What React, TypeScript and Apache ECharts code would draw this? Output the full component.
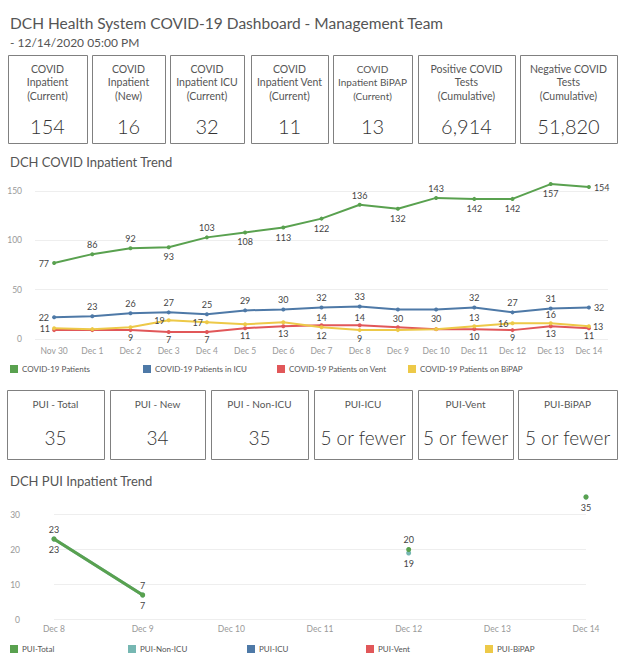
import React, { useEffect, useRef } from 'react';
import * as echarts from 'echarts';

// ---------- data ----------
const trendDates = ['Nov 30', 'Dec 1', 'Dec 2', 'Dec 3', 'Dec 4', 'Dec 5', 'Dec 6', 'Dec 7', 'Dec 8', 'Dec 9', 'Dec 10', 'Dec 11', 'Dec 12', 'Dec 13', 'Dec 14'];
const covidPatients = [77, 86, 92, 93, 103, 108, 113, 122, 136, 132, 143, 142, 142, 157, 154];
const covidICU = [22, 23, 26, 27, 25, 29, 30, 32, 33, 30, 30, 32, 27, 31, 32];
const covidVent = [9, 9, 9, 7, 7, 11, 13, 14, 14, 12, 10, 10, 9, 13, 11];
const covidBiPAP = [11, 10, 12, 19, 17, 15, 17, 12, 9, 9, 10, 13, 16, 16, 13];
const trendAxis = { min: 0, max: 150, interval: 50 };

const puiDates = ['Dec 8', 'Dec 9', 'Dec 10', 'Dec 11', 'Dec 12', 'Dec 13', 'Dec 14'];
const puiTotal = [23, 7, null, null, 20, null, 35];
const puiNonICU = [23, 7, null, null, 19, null, 35];
const puiICU = [null, null, null, null, null, null, null];
const puiVent = [null, null, null, null, null, null, null];
const puiBiPAP = [null, null, null, null, null, null, null];
const puiAxis = { min: 0, max: 30, interval: 10 };

const kpiLabels = [
  'COVID\nInpatient\n(Current)',
  'COVID\nInpatient\n(New)',
  'COVID\nInpatient ICU\n(Current)',
  'COVID\nInpatient Vent\n(Current)',
  'COVID\nInpatient BiPAP\n(Current)',
  'Positive COVID\nTests\n(Cumulative)',
  'Negative COVID\nTests\n(Cumulative)',
];
const kpiValues = ['154', '16', '32', '11', '13', '6,914', '51,820'];

const puiKpiLabels = ['PUI - Total', 'PUI - New', 'PUI - Non-ICU', 'PUI-ICU', 'PUI-Vent', 'PUI-BiPAP'];
const puiKpiValues = ['35', '34', '35', '5 or fewer', '5 or fewer', '5 or fewer'];

const trendNames = ['COVID-19 Patients', 'COVID-19 Patients in ICU', 'COVID-19 Patients on Vent', 'COVID-19 Patients on BiPAP'];
const puiNames = ['PUI-Total', 'PUI-Non-ICU', 'PUI-ICU', 'PUI-Vent', 'PUI-BiPAP'];

// ---------- styles / layout ----------
const FONT = 'Lato';
const GREEN = '#59a14f';
const BLUE = '#4e79a7';
const RED = '#e15759';
const YELLOW = '#edc948';
const TEAL = '#76b7b2';

const posPatients = ['left', 'top', 'top', 'bottom', 'top', 'bottom', 'bottom', 'bottom', 'top', 'bottom', 'top', 'bottom', 'bottom', 'bottom', 'right'];
const posICU = ['left', 'top', 'top', 'top', 'top', 'top', 'top', 'top', 'top', 'bottom', 'bottom', 'top', 'top', 'top', 'right'];
const posVent = ['', '', 'bottom', 'bottom', 'bottom', 'bottom', 'bottom', 'top', 'top', '', '', 'bottom', 'bottom', 'bottom', 'bottom'];
const posBiPAP = ['left', '', '', 'left', 'left', '', '', 'bottom', 'bottom', '', '', 'top', 'left', 'top', 'right'];
const posPuiTotal = ['top', 'top', '', '', 'top', '', ''];
const posPuiNonICU = ['bottom', 'bottom', '', '', 'bottom', '', 'bottom'];

const kpiBoxes = [[8, 87], [92, 165], [170, 244], [251, 328], [333, 412], [418, 515], [520, 617]];
const puiBoxes = [[7, 104], [110, 205], [211, 308], [314, 412], [418, 513], [518, 617]];

function withLabels(vals: (number | null)[], pos: string[], dist = 3) {
  return vals.map((v, i) =>
    v == null ? null : { value: v, label: { show: !!pos[i], position: pos[i] || 'top', distance: dist } }
  );
}

function lineSeries(name: string, color: string, width: number, data: any[], axis: number, size: number, z: number) {
  return {
    type: 'line',
    name,
    data,
    xAxisIndex: axis,
    yAxisIndex: axis,
    symbol: 'circle',
    symbolSize: size,
    showAllSymbol: true,
    connectNulls: false,
    clip: false,
    z,
    lineStyle: { color, width },
    itemStyle: { color },
    label: { show: true, fontSize: 9, color: '#444', distance: 3, fontFamily: FONT },
    emphasis: { disabled: true },
  };
}

function buildGraphics() {
  const g: any[] = [];
  g.push({
    type: 'text', x: 10, y: 23,
    style: { text: 'DCH Health System COVID-19 Dashboard - Management Team', fontSize: 15.5, fontFamily: FONT, fill: '#555', align: 'left', verticalAlign: 'middle' },
  });
  g.push({
    type: 'text', x: 10, y: 42,
    style: { text: '- 12/14/2020 05:00 PM', fontSize: 12, fontFamily: FONT, fill: '#555', align: 'left', verticalAlign: 'middle' },
  });
  kpiBoxes.forEach(([x0, x1], i) => {
    g.push({ type: 'rect', shape: { x: x0 + 0.5, y: 55.5, width: x1 - x0, height: 88 }, style: { fill: '#fff', stroke: '#808080', lineWidth: 1 } });
    const cx = (x0 + x1) / 2;
    const small = i === 4;
    g.push({
      type: 'text', x: cx, y: 82,
      style: { text: kpiLabels[i], fontSize: small ? 10 : 10.5, lineHeight: 13.5, fontFamily: FONT, fill: '#555', align: 'center', verticalAlign: 'middle' },
    });
    g.push({
      type: 'text', x: cx, y: 126,
      style: { text: kpiValues[i], fontSize: 20, fontWeight: 300, fontFamily: FONT, fill: '#333', align: 'center', verticalAlign: 'middle' },
    });
  });
  g.push({
    type: 'text', x: 10, y: 162,
    style: { text: 'DCH COVID Inpatient Trend', fontSize: 13, fontFamily: FONT, fill: '#555', align: 'left', verticalAlign: 'middle' },
  });
  puiBoxes.forEach(([x0, x1], i) => {
    g.push({ type: 'rect', shape: { x: x0 + 0.5, y: 390.5, width: x1 - x0, height: 69 }, style: { fill: '#fff', stroke: '#808080', lineWidth: 1 } });
    const cx = (x0 + x1) / 2;
    g.push({
      type: 'text', x: cx, y: 404,
      style: { text: puiKpiLabels[i], fontSize: 10, fontFamily: FONT, fill: '#555', align: 'center', verticalAlign: 'middle' },
    });
    g.push({
      type: 'text', x: cx, y: 437,
      style: { text: puiKpiValues[i], fontSize: 19, fontWeight: 300, fontFamily: FONT, fill: '#333', align: 'center', verticalAlign: 'middle' },
    });
  });
  g.push({
    type: 'text', x: 10, y: 481,
    style: { text: 'DCH PUI Inpatient Trend', fontSize: 13, fontFamily: FONT, fill: '#555', align: 'left', verticalAlign: 'middle' },
  });
  return g;
}

function legendItem(name: string, left: number, top: number) {
  return {
    data: [name],
    left,
    top,
    padding: 0,
    icon: 'rect',
    itemWidth: 8,
    itemHeight: 8,
    selectedMode: false,
    textStyle: { fontSize: 8, color: '#555', fontFamily: FONT, padding: [0, 0, 0, -1] },
  };
}

const axisLabelStyle = { fontSize: 8.5, color: '#999', fontFamily: FONT };

export default function App() {
  const ref = useRef<HTMLDivElement>(null);
  useEffect(() => {
    if (!ref.current) return;
    const chart = echarts.init(ref.current, undefined, { renderer: 'svg' });
    const trendLegendLeft = [10, 143, 277, 408];
    const puiLegendLeft = [10, 128, 247, 366, 485];
    chart.setOption({
      animation: false,
      backgroundColor: '#fff',
      textStyle: { fontFamily: FONT },
      grid: [
        { left: 35, right: 16, top: 191, height: 148 },
        { left: 54, right: 38, top: 514.5, height: 105 },
      ],
      xAxis: [
        {
          type: 'category', gridIndex: 0, data: trendDates, boundaryGap: true,
          axisLine: { show: false }, axisTick: { show: false },
          axisLabel: { ...axisLabelStyle, margin: 7, interval: 0 },
        },
        {
          type: 'category', gridIndex: 1, data: puiDates, boundaryGap: false,
          axisLine: { show: false }, axisTick: { show: false },
          axisLabel: { ...axisLabelStyle, margin: 5, interval: 0 },
        },
      ],
      yAxis: [
        {
          type: 'value', gridIndex: 0, ...trendAxis,
          axisLine: { show: false }, axisTick: { show: false },
          axisLabel: { ...axisLabelStyle, margin: 13 },
          splitLine: { lineStyle: { color: '#eeeeee' } },
        },
        {
          type: 'value', gridIndex: 1, ...puiAxis,
          axisLine: { show: false }, axisTick: { show: false },
          axisLabel: { ...axisLabelStyle, margin: 34 },
          splitLine: { lineStyle: { color: '#eeeeee' } },
        },
      ],
      legend: [
        ...trendNames.map((n, i) => legendItem(n, trendLegendLeft[i], 365)),
        ...puiNames.map((n, i) => legendItem(n, puiLegendLeft[i], 645)),
      ],
      series: [
        lineSeries(trendNames[0], GREEN, 2, withLabels(covidPatients, posPatients), 0, 4, 4),
        lineSeries(trendNames[1], BLUE, 2, withLabels(covidICU, posICU), 0, 4, 3),
        lineSeries(trendNames[2], RED, 2, withLabels(covidVent, posVent, 1), 0, 4, 2),
        lineSeries(trendNames[3], YELLOW, 2, withLabels(covidBiPAP, posBiPAP, 2), 0, 4, 2),
        lineSeries(puiNames[1], TEAL, 3, withLabels(puiNonICU, posPuiNonICU), 1, 5, 2),
        lineSeries(puiNames[0], GREEN, 3, withLabels(puiTotal, posPuiTotal), 1, 5, 3),
        lineSeries(puiNames[2], BLUE, 3, puiICU, 1, 5, 2),
        lineSeries(puiNames[3], RED, 3, puiVent, 1, 5, 2),
        lineSeries(puiNames[4], YELLOW, 3, puiBiPAP, 1, 5, 2),
      ],
      graphic: buildGraphics(),
    });
    return () => chart.dispose();
  }, []);
  return <div ref={ref} style={{ position: 'absolute', left: 0, top: 0, width: 624, height: 665 }} />;
}
